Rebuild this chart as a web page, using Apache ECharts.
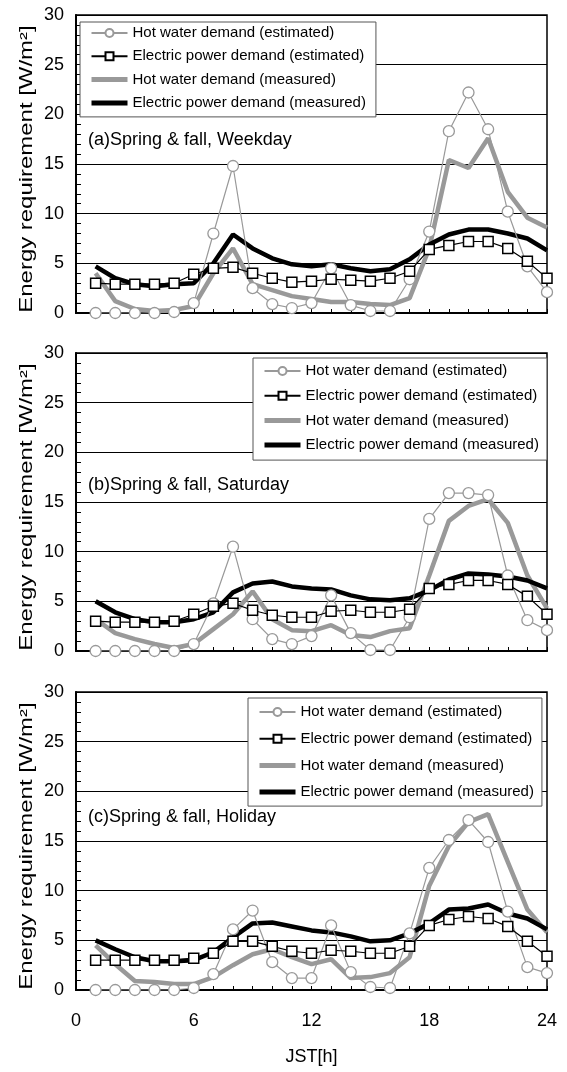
<!DOCTYPE html>
<html>
<head>
<meta charset="utf-8">
<script src="https://cdn.jsdelivr.net/npm/echarts@6/dist/echarts.min.js"></script>
<style>
  html, body { margin: 0; padding: 0; background: #fff; }
  #main { width: 567px; height: 1072px; }
</style>
</head>
<body>
<div id="main"></div>
<script>
// hours of the day (JST)
const hours = [1,2,3,4,5,6,7,8,9,10,11,12,13,14,15,16,17,18,19,20,21,22,23,24];

const seriesNames = [
  'Hot water demand (estimated)',
  'Electric power demand (estimated)',
  'Hot water demand (measured)',
  'Electric power demand (measured)'
];
const panelLabels = ['(a)Spring & fall, Weekday', '(b)Spring & fall, Saturday', '(c)Spring & fall, Holiday'];

// (a) weekday
const weekdayHwEst  = [0.0,0.0,0.0,0.0,0.1,1.0,8.0,14.8,2.5,0.9,0.5,1.0,4.5,0.8,0.2,0.2,3.4,8.2,18.3,22.2,18.5,10.2,4.7,2.1];
const weekdayEpEst  = [3.0,2.9,2.9,2.9,3.0,3.9,4.5,4.6,4.0,3.5,3.1,3.2,3.4,3.3,3.2,3.5,4.2,6.4,6.8,7.2,7.2,6.5,5.2,3.5];
const weekdayHwMeas = [4.0,1.2,0.4,0.2,0.3,0.7,4.0,6.5,2.9,2.3,1.7,1.4,1.1,1.1,0.9,0.8,1.5,6.5,15.4,14.6,17.6,12.2,9.6,8.6];
const weekdayEpMeas = [4.7,3.5,2.9,2.7,2.9,3.0,5.0,7.9,6.5,5.5,4.9,4.7,4.9,4.5,4.2,4.4,5.4,6.9,7.9,8.4,8.4,8.0,7.5,6.3];

// (b) saturday
const saturdayHwEst  = [0.0,0.0,0.0,0.0,0.0,0.7,4.8,10.5,3.2,1.2,0.7,1.5,5.6,1.8,0.1,0.1,3.4,13.3,15.9,15.9,15.7,7.6,3.1,2.1];
const saturdayEpEst  = [3.0,2.9,2.9,2.9,3.0,3.7,4.5,4.8,4.1,3.6,3.4,3.4,4.0,4.1,3.9,3.9,4.2,6.3,6.7,7.1,7.1,6.7,5.5,3.7];
const saturdayHwMeas = [3.2,1.8,1.2,0.7,0.3,0.7,2.2,3.7,6.0,3.2,2.1,2.0,2.6,1.6,1.4,2.0,2.3,7.6,13.1,14.6,15.3,12.9,7.6,4.3];
const saturdayEpMeas = [5.0,3.9,3.2,2.9,2.9,3.2,3.9,5.9,6.8,7.0,6.5,6.3,6.2,5.6,5.2,5.1,5.3,6.1,7.2,7.8,7.7,7.5,7.1,6.3];

// (c) holiday
const holidayHwEst  = [0.0,0.0,0.0,0.0,0.0,0.2,1.6,6.1,8.0,2.8,1.2,1.2,6.5,1.8,0.3,0.2,5.7,12.3,15.1,17.1,14.9,7.9,2.3,1.7];
const holidayEpEst  = [3.0,3.0,3.0,3.0,3.0,3.2,3.7,4.9,4.9,4.4,3.9,3.7,4.0,3.9,3.7,3.7,4.4,6.5,7.1,7.4,7.2,6.4,4.9,3.4];
const holidayHwMeas = [4.5,2.6,0.9,0.8,0.6,0.6,1.3,2.5,3.6,4.1,3.3,2.6,3.1,1.2,1.3,1.7,3.3,10.5,14.5,16.9,17.7,12.9,8.1,5.8];
const holidayEpMeas = [5.0,4.1,3.3,2.9,2.9,3.0,3.8,5.3,6.7,6.8,6.4,6.0,5.8,5.4,4.9,5.0,5.7,6.7,8.1,8.2,8.6,7.7,7.2,6.1];

const panels = [
  [weekdayHwEst, weekdayEpEst, weekdayHwMeas, weekdayEpMeas],
  [saturdayHwEst, saturdayEpEst, saturdayHwMeas, saturdayEpMeas],
  [holidayHwEst, holidayEpEst, holidayHwMeas, holidayEpMeas]
];

const font = '"Liberation Sans", Arial, sans-serif';
const gridTops = [15, 353, 692];
const gridH = 298;

// legend box placement per panel
const legendPos = [
  { left: 80,  top: 22,  itemGap: 6.3, padding: [2.5, 10, 5.5, 9] },
  { left: 253, top: 358, itemGap: 7.7, padding: [4.5, 8, 6.5, 9] },
  { left: 248, top: 698, itemGap: 9.7, padding: [5.5, 8, 5.5, 9] }
];
const labelY = [140, 485, 817];

const pair = arr => hours.map((h, i) => [h, arr[i]]);

// measured lines: plain thick stroke in legend, no marker
const legendData = seriesNames.map((n, i) => i < 2 ? { name: n } : {
  name: n, itemStyle: { opacity: 0 }, lineStyle: { width: 5 }
});

const grid = [], xAxis = [], yAxis = [], series = [], legend = [], graphic = [];

panels.forEach((p, k) => {
  grid.push({
    left: 76, right: 20, top: gridTops[k], height: gridH,
    show: true, borderColor: '#000', borderWidth: 1.5,
    outerBoundsMode: 'none'
  });
  xAxis.push({
    type: 'value', gridIndex: k, min: 0, max: 24, interval: 6,
    axisLine: { lineStyle: { color: '#000', width: 2 } },
    axisTick: { inside: true, length: 4, lineStyle: { color: '#000' } },
    minorTick: { show: true, splitNumber: 6, length: 4, lineStyle: { color: '#000', width: 1 } },
    splitLine: { show: false },
    axisLabel: { show: k === 2, fontSize: 18, color: '#000', margin: 22, fontFamily: font },
    name: k === 2 ? 'JST[h]' : '',
    nameLocation: 'middle', nameGap: 58,
    nameTextStyle: { fontSize: 18, color: '#000', fontFamily: font }
  });
  yAxis.push({
    type: 'value', gridIndex: k, min: 0, max: 30, interval: 5,
    axisLine: { show: true, lineStyle: { color: '#000', width: 2 } },
    axisTick: { show: true, inside: true, length: 5, lineStyle: { color: '#000' } },
    minorTick: { show: true, splitNumber: 5, length: 5, lineStyle: { color: '#000', width: 1 } },
    splitLine: { show: true, lineStyle: { color: '#000', width: 1 } },
    axisLabel: { fontSize: 18, color: '#000', margin: 12, fontFamily: font }
  });

  // measured (thick) lines underneath, estimated with markers on top
  series.push({
    name: seriesNames[0], type: 'line', xAxisIndex: k, yAxisIndex: k,
    data: pair(p[0]), symbol: 'circle', symbolSize: 11, z: 3,
    lineStyle: { color: '#999', width: 1.2 },
    itemStyle: { color: '#fff', borderColor: '#999', borderWidth: 1.3 }
  });
  series.push({
    name: seriesNames[1], type: 'line', xAxisIndex: k, yAxisIndex: k,
    data: pair(p[1]), symbol: 'rect', symbolSize: 10, z: 4,
    lineStyle: { color: '#000', width: 1.2 },
    itemStyle: { color: '#fff', borderColor: '#000', borderWidth: 1.5 }
  });
  series.push({
    name: seriesNames[2], type: 'line', xAxisIndex: k, yAxisIndex: k,
    data: pair(p[2]), symbol: 'none', z: 1,
    lineStyle: { color: '#999', width: 4.5 },
    itemStyle: { color: '#999' }
  });
  series.push({
    name: seriesNames[3], type: 'line', xAxisIndex: k, yAxisIndex: k,
    data: pair(p[3]), symbol: 'none', z: 2,
    lineStyle: { color: '#000', width: 4.5 },
    itemStyle: { color: '#000' }
  });

  legend.push({
    data: legendData, orient: 'vertical',
    left: legendPos[k].left, top: legendPos[k].top,
    itemGap: legendPos[k].itemGap, padding: legendPos[k].padding,
    itemWidth: 36, itemHeight: 10,
    backgroundColor: '#fff', borderColor: '#555', borderWidth: 1,
    selectedMode: false,
    textStyle: { fontSize: 15, color: '#000', lineHeight: 17, fontFamily: font }
  });

  // y axis title (stretched along its length like the original)
  graphic.push({
    type: 'text', x: 27, y: gridTops[k] + gridH / 2 + 5,
    rotation: Math.PI / 2, scaleX: 1.33,
    style: {
      text: 'Energy requirement [W/m²]', fontSize: 18, fontFamily: font, fill: '#000',
      align: 'center', verticalAlign: 'middle', textAlign: 'center', textVerticalAlign: 'middle'
    }
  });
  graphic.push({
    type: 'text', x: 88, y: labelY[k],
    style: {
      text: panelLabels[k], fontSize: 18, fontFamily: font, fill: '#000',
      align: 'left', verticalAlign: 'middle', textAlign: 'left', textVerticalAlign: 'middle'
    }
  });
});

const chart = echarts.init(document.getElementById('main'), null, { renderer: 'canvas' });
chart.setOption({
  animation: false,
  backgroundColor: '#fff',
  textStyle: { fontFamily: font },
  grid, xAxis, yAxis, legend, series, graphic
});
</script>
</body>
</html>
